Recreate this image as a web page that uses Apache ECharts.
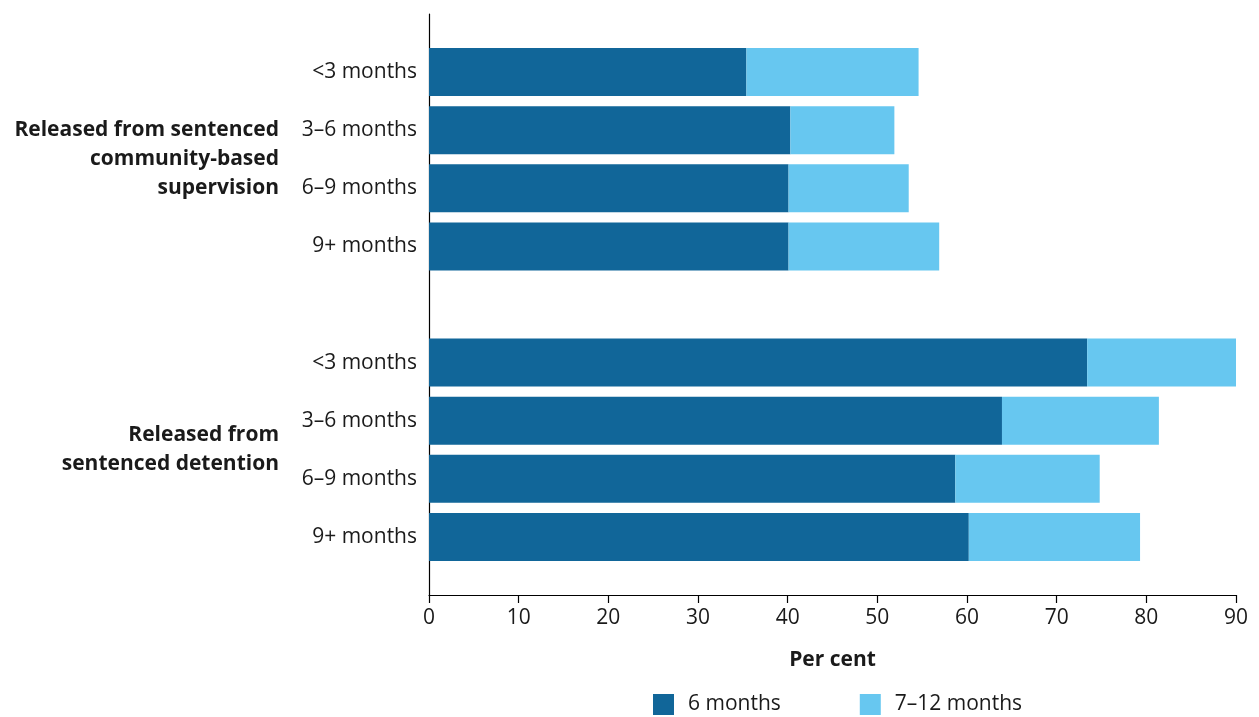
<!DOCTYPE html>
<html>
<head>
<meta charset="utf-8">
<script src="https://cdn.jsdelivr.net/npm/echarts@6/dist/echarts.min.js"></script>
<style>
html,body{margin:0;padding:0;background:#fff;}
#chart{width:1259px;height:717px;}
</style>
</head>
<body>
<div id="chart"></div>
<script>
const groupLabels = ['Released from sentenced\ncommunity-based\nsupervision', 'Released from\nsentenced detention'];
const periods = ['<3 months', '3–6 months', '6–9 months', '9+ months'];
const sixMonths = [35.4, 40.3, 40.1, 40.1, 73.4, 63.9, 58.7, 60.2];
const sevenToTwelve = [19.2, 11.6, 13.4, 16.8, 16.6, 17.5, 16.1, 19.1];
const seriesNames = ['6 months', '7–12 months'];
const xTicks = [0, 90, 10];

// category layout: blank, group 1 periods, blank, group 2 periods, blank
const categories = [''];
const darkData = [null];
const lightData = [null];
const groupIdx = [];
groupLabels.forEach((g, gi) => {
  const idx = [];
  periods.forEach((p, pi) => {
    idx.push(categories.length);
    categories.push(p);
    darkData.push(sixMonths[gi * periods.length + pi]);
    lightData.push(sevenToTwelve[gi * periods.length + pi]);
  });
  groupIdx.push(idx);
  categories.push('');
  darkData.push(null);
  lightData.push(null);
});

const FONT = '"Open Sans", "Noto Sans", sans-serif';
const TXT = '#1a1a1a';
const chart = echarts.init(document.getElementById('chart'));
chart.setOption({
  animation: false,
  textStyle: { fontFamily: FONT },
  grid: { left: 429, right: 23, top: 14, bottom: 122, containLabel: false },
  legend: {
    left: 653, top: 694, padding: 0,
    itemWidth: 21, itemHeight: 21, itemGap: 79,
    icon: 'rect',
    textStyle: { fontFamily: FONT, fontSize: 21, color: TXT, padding: [3, 0, 0, 9] },
    data: seriesNames
  },
  xAxis: {
    type: 'value',
    min: xTicks[0], max: xTicks[1], interval: xTicks[2],
    splitLine: { show: false },
    axisLine: { show: true, lineStyle: { color: '#000', width: 1.2 } },
    axisTick: { show: true, length: 8, lineStyle: { color: '#000', width: 1.2 } },
    axisLabel: { fontFamily: FONT, fontSize: 21, color: TXT, margin: 13 },
    name: 'Per cent',
    nameLocation: 'middle',
    nameGap: 55,
    nameTextStyle: { fontFamily: FONT, fontSize: 21, fontWeight: 'bold', color: TXT }
  },
  yAxis: {
    type: 'category',
    data: categories,
    inverse: true,
    boundaryGap: false,
    axisLine: { show: true, lineStyle: { color: '#000', width: 1.2 } },
    axisTick: { show: false },
    axisLabel: { fontFamily: FONT, fontSize: 21, color: TXT, margin: 12, interval: 0 }
  },
  series: [
    { name: seriesNames[0], type: 'bar', stack: 't', data: darkData, barWidth: 48, itemStyle: { color: '#116699' } },
    { name: seriesNames[1], type: 'bar', stack: 't', data: lightData, barWidth: 48, itemStyle: { color: '#67C7F0' } }
  ]
});

// group labels centred on their categories
const graphics = groupIdx.map((idx, gi) => {
  const ys = idx.map(i => chart.convertToPixel({ yAxisIndex: 0 }, i));
  const cy = (Math.min.apply(null, ys) + Math.max.apply(null, ys)) / 2;
  return {
    type: 'text',
    x: 279, y: cy,
    style: {
      text: groupLabels[gi],
      font: 'bold 21px ' + FONT,
      fill: TXT,
      align: 'right',
      verticalAlign: 'middle',
      lineHeight: 29
    }
  };
});
chart.setOption({ graphic: graphics });
</script>
</body>
</html>
